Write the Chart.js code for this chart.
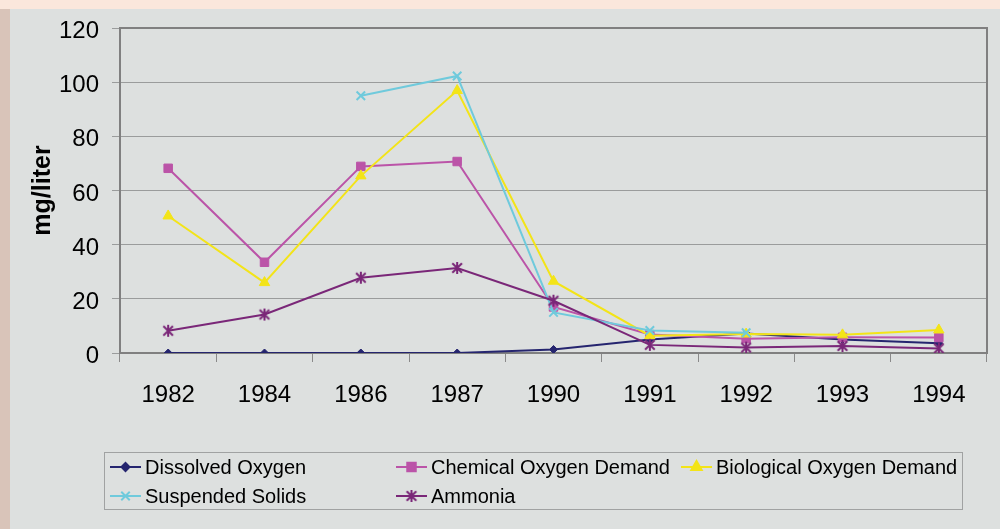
<!DOCTYPE html>
<html>
<head>
<meta charset="utf-8">
<script src="https://cdn.jsdelivr.net/npm/chart.js@4.4.1/dist/chart.umd.min.js"></script>
<style>
  html, body { margin: 0; padding: 0; background: #dde0df; overflow: hidden; }
  #chart { display: block; }
</style>
</head>
<body>
<canvas id="chart" width="1000" height="529"></canvas>
<script>
// values (mg/liter)
const years = ["1982", "1984", "1986", "1987", "1990", "1991", "1992", "1993", "1994"];
const dissolvedOxygen = [0, 0, 0, 0, 1.3, 5, 7.2, 5, 3.6];
const chemicalOxygenDemand = [68.2, 33.5, 68.9, 70.7, 17, 6.8, 5.3, 5.8, 5.7];
const biologicalOxygenDemand = [50.6, 26, 65.4, 96.9, 26.5, 6.4, 7, 6.7, 8.5];
const suspendedSolids = [null, null, 95, 102.3, 15, 8.3, 7.5, null, null];
const ammonia = [8.2, 14.2, 27.8, 31.4, 19.3, 3, 2, 2.6, 1.7];
const yTicks = [0, 20, 40, 60, 80, 100, 120];

const font = "'Liberation Sans', Arial, sans-serif";

// Excel "star" marker: an X with a vertical bar through it
function asteriskMarker(color, r) {
  const c = document.createElement("canvas");
  c.width = c.height = 2 * r + 4;
  const g = c.getContext("2d");
  const m = r + 2;
  const d = r * 0.8;
  g.strokeStyle = color;
  g.lineWidth = 2;
  g.beginPath();
  g.moveTo(m - d, m - d); g.lineTo(m + d, m + d);
  g.moveTo(m + d, m - d); g.lineTo(m - d, m + d);
  g.moveTo(m, m - r); g.lineTo(m, m + r);
  g.stroke();
  return c;
}

function series(label, data, color, style, radius, order) {
  return {
    label,
    data,
    borderColor: color,
    backgroundColor: color,
    borderWidth: 2,
    pointStyle: style,
    pointRadius: radius,
    pointHoverRadius: radius,
    pointBorderWidth: style === "crossRot" ? 2 : 1,
    pointBorderColor: color,
    pointBackgroundColor: color,
    tension: 0,
    spanGaps: false,
    order,
  };
}

const datasets = [
  series("Dissolved Oxygen", dissolvedOxygen, "#25256f", "rectRot", 4, 5),
  series("Chemical Oxygen Demand", chemicalOxygenDemand, "#bb54a8", "rect", 6, 4),
  series("Biological Oxygen Demand", biologicalOxygenDemand, "#f3e418", "triangle", 6, 3),
  series("Suspended Solids", suspendedSolids, "#6fcadc", "crossRot", 6, 2),
  series("Ammonia", ammonia, "#7a2778", asteriskMarker("#7a2778", 6), 6, 1),
];

// page background: pinkish strips top and left, grey panel
const backdrop = {
  id: "backdrop",
  beforeDraw(chart) {
    const ctx = chart.ctx;
    ctx.save();
    ctx.fillStyle = "#dde0df";
    ctx.fillRect(0, 0, chart.width, chart.height);
    ctx.fillStyle = "#fbe7dc";
    ctx.fillRect(0, 0, chart.width, 9);
    ctx.fillStyle = "#d9c4b9";
    ctx.fillRect(0, 9, 10, chart.height - 9);
    ctx.restore();
  },
};

// box round the plot area
const frame = {
  id: "frame",
  beforeDatasetsDraw(chart) {
    const { ctx, chartArea: a } = chart;
    ctx.save();
    ctx.strokeStyle = "#808080";
    ctx.lineWidth = 2;
    ctx.strokeRect(a.left, a.top, a.right - a.left, a.bottom - a.top);
    ctx.restore();
  },
};

// Excel-style legend: boxed grid of three columns
const gridLegend = {
  id: "gridLegend",
  afterDraw(chart) {
    const ctx = chart.ctx;
    const cols = [110, 396, 681];
    const rows = [467, 496];
    ctx.save();
    ctx.fillStyle = "#dde0df";
    ctx.fillRect(104.5, 452.5, 858, 57);
    ctx.strokeStyle = "#a0a2a2";
    ctx.lineWidth = 1;
    ctx.strokeRect(104.5, 452.5, 858, 57);
    chart.data.datasets.forEach((ds, i) => {
      const x = cols[i % 3];
      const y = rows[Math.floor(i / 3)];
      ctx.strokeStyle = ds.borderColor;
      ctx.lineWidth = 2;
      ctx.beginPath();
      ctx.moveTo(x, y);
      ctx.lineTo(x + 31, y);
      ctx.stroke();
      ctx.fillStyle = ds.pointBackgroundColor;
      Chart.helpers.drawPoint(ctx, {
        pointStyle: ds.pointStyle,
        radius: ds.pointRadius,
        borderWidth: ds.pointBorderWidth,
        rotation: 0,
      }, x + 15.5, y);
      ctx.fillStyle = "#000";
      ctx.font = "20px " + font;
      ctx.textBaseline = "middle";
      ctx.textAlign = "left";
      ctx.fillText(ds.label, x + 35, y + 1);
    });
    ctx.restore();
  },
};

new Chart(document.getElementById("chart"), {
  type: "line",
  data: { labels: years, datasets },
  plugins: [backdrop, frame, gridLegend],
  options: {
    responsive: false,
    animation: false,
    events: [],
    layout: { padding: { top: 28, right: 13, left: 0, bottom: 0 } },
    plugins: {
      legend: { display: false },
      tooltip: { enabled: false },
    },
    scales: {
      x: {
        type: "category",
        offset: true,
        afterFit: (s) => { s.height = 176; },
        grid: { offset: true, drawOnChartArea: false, drawTicks: true, tickLength: 9, color: "#8a8a8a" },
        border: { color: "#808080", width: 2 },
        ticks: { color: "#000", font: { family: font, size: 24 }, padding: 19, maxRotation: 0 },
      },
      y: {
        min: 0,
        max: 120,
        afterFit: (s) => { s.width = 120; },
        afterBuildTicks: (s) => { s.ticks = yTicks.map((v) => ({ value: v })); },
        grid: { color: "#9a9c9c", lineWidth: 1, tickLength: 8 },
        border: { color: "#777", width: 2 },
        // Excel sits the numbers a little below their gridline: empty first line nudges them down
        ticks: {
          color: "#000",
          font: { family: font, size: 24, lineHeight: "7px" },
          padding: 13,
          callback: (v) => ["", String(v)],
        },
        title: {
          display: true,
          text: "mg/liter",
          color: "#000",
          font: { family: font, size: 25, weight: "bold" },
          padding: { top: 28, bottom: 0 },
        },
      },
    },
  },
});
</script>
</body>
</html>
